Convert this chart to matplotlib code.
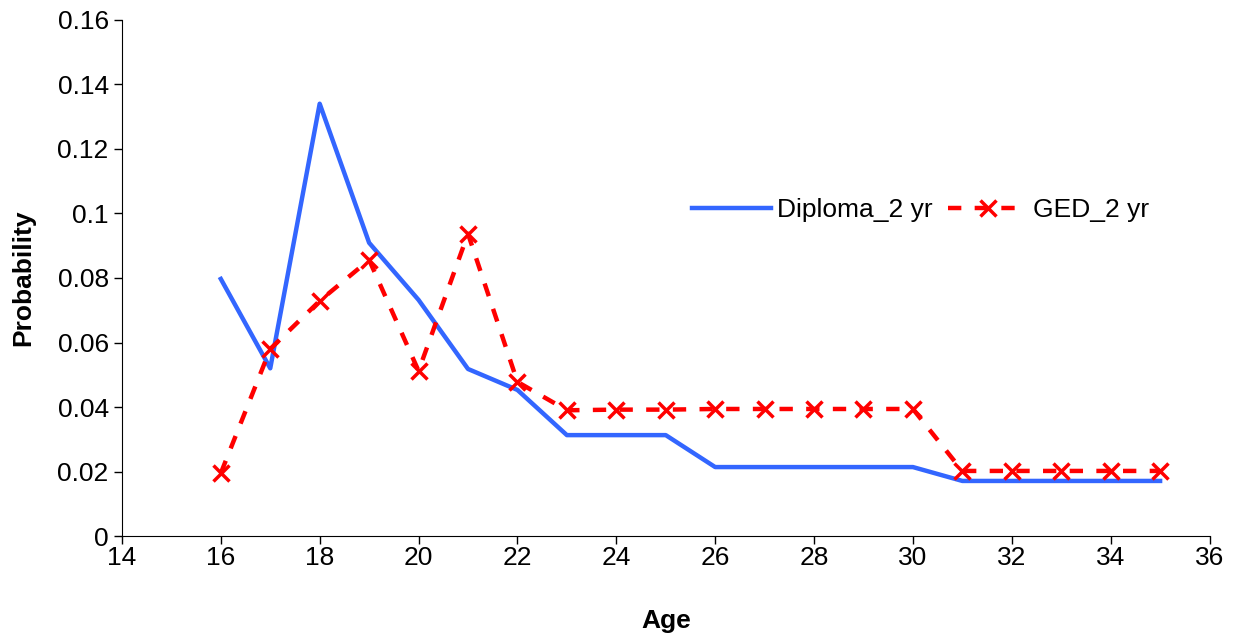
import matplotlib
matplotlib.use('Agg')
import matplotlib.pyplot as plt

plt.rcParams['font.family'] = ['Liberation Sans', 'DejaVu Sans']

ages = [16, 17, 18, 19, 20, 21, 22, 23, 24, 25, 26, 27, 28, 29, 30, 31, 32, 33, 34, 35]
diploma = [0.0797, 0.0520, 0.1340, 0.0909, 0.0732, 0.0518, 0.0453, 0.0313, 0.0313, 0.0313,
           0.0214, 0.0214, 0.0214, 0.0214, 0.0214, 0.0171, 0.0171, 0.0171, 0.0171, 0.0171]
ged = [0.0195, 0.0580, 0.0729, 0.0856, 0.0512, 0.0937, 0.0478, 0.0390, 0.0392, 0.0392,
       0.0394, 0.0394, 0.0394, 0.0394, 0.0394, 0.0202, 0.0202, 0.0202, 0.0202, 0.0202]

fig = plt.figure(figsize=(12.38, 6.39), dpi=100)
ax = fig.add_axes([0.0985, 0.161, 0.8785, 0.808])

ax.plot(ages, diploma, color='#3366FF', lw=3.2, label='Diploma_2 yr')
ax.plot(ages, ged, color='#FF0000', lw=3.2, linestyle=(0, (3, 3)),
        marker='x', markersize=11, markeredgewidth=2.5, label='GED_2 yr')

ax.set_xlim(14, 36)
ax.set_ylim(0, 0.16)
ax.set_xticks(range(14, 37, 2))
ax.set_yticks([0, 0.02, 0.04, 0.06, 0.08, 0.1, 0.12, 0.14, 0.16])
ax.set_yticklabels(['0', '0.02', '0.04', '0.06', '0.08', '0.1', '0.12', '0.14', '0.16'])
ax.tick_params(labelsize=19, length=6, width=1, direction='out')
ax.tick_params(axis='x', pad=1)
ax.spines['top'].set_visible(False)
ax.spines['right'].set_visible(False)

ax.set_xlabel('Age', fontsize=19, fontweight='bold', labelpad=28)
ax.set_ylabel('Probability', fontsize=19, fontweight='bold', labelpad=16)

fig.legend(loc='center left', bbox_to_anchor=(0.54, 0.671), ncol=2, frameon=False,
           fontsize=19, handlelength=3.0, handletextpad=0.2, columnspacing=0.6)

fig.savefig('out.png', dpi=100)
